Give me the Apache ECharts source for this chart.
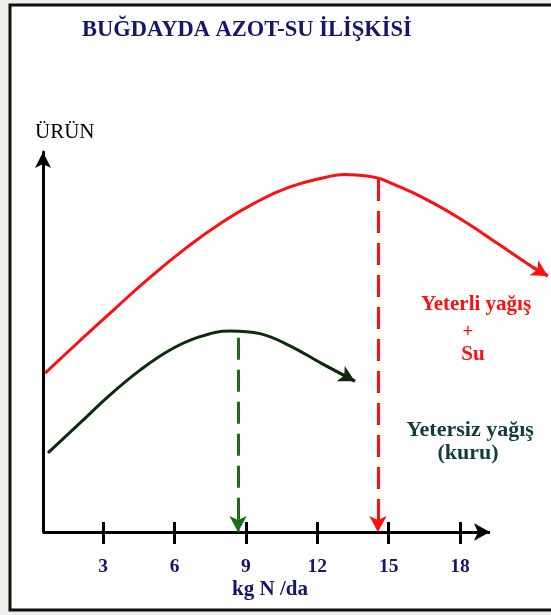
<!DOCTYPE html>
<html>
<head>
<meta charset="utf-8">
<script src="https://cdn.jsdelivr.net/npm/echarts@6/dist/echarts.min.js"></script>
<style>
html,body{margin:0;padding:0;background:#efeeea;}
#c{width:551px;height:615px;}
</style>
</head>
<body>
<div id="c"></div>
<script>
// ---- data (x: kg N/da, y: relative yield) ----
const xTicks = [3, 6, 9, 12, 15, 18];
const redX = [0.56, 2.03, 3.50, 4.97, 6.44, 7.91, 9.38, 10.85, 12.32, 13.16, 14.09, 15.47, 16.86, 18.29, 19.68, 21.06, 21.69];
const redY = [41.8, 50.4, 58.8, 67.0, 74.5, 81.1, 86.6, 90.8, 93.3, 94.1, 93.7, 90.8, 86.6, 81.3, 75.5, 69.7, 67.4];
const greenX = [0.68, 2.03, 3.29, 4.55, 5.81, 7.07, 8.33, 9.59, 10.85, 12.11, 13.58];
const greenY = [20.8, 28.7, 36.1, 42.6, 47.9, 51.4, 52.9, 52.2, 49.0, 44.6, 39.7];
const redOptimum = [14.55, 92.9];
const greenOptimum = [8.67, 51.1];
const xMin = 0.47, xMax = 21.7, xAxisEnd = 19.26;

const SERIF = "'Liberation Serif','DejaVu Serif',serif";
const NAVY = '#15156b';
const RED = '#ff1010';
const DKGREEN = '#0c2a0c';
const GREEN = '#1d6b1d';

const zip = (a, b) => a.map((v, i) => [v, b[i]]);
const redData = zip(redX, redY);
const greenData = zip(greenX, greenY);

const chart = echarts.init(document.getElementById('c'), null, {renderer: 'canvas'});
const tickAxisBase = {
  type: 'value', min: xMin, max: xMax,
  axisLine: {show: false}, splitLine: {show: false}
};
chart.setOption({
  animation: false,
  backgroundColor: '#efeeea',
  title: {
    text: 'BUĞDAYDA AZOT-SU İLİŞKİSİ',
    left: 82, top: 19,
    padding: 0,
    textStyle: {fontFamily: SERIF, fontWeight: 'bold', fontSize: 22.5, color: NAVY}
  },
  grid: {left: 43, right: 3, top: 152, bottom: 83},
  xAxis: [
    Object.assign({}, tickAxisBase, {
      axisTick: {show: true, customValues: xTicks, length: 12, lineStyle: {color: '#000', width: 3}},
      axisLabel: {show: true, customValues: xTicks, margin: 25, fontFamily: SERIF, fontWeight: 'bold', fontSize: 19.5, color: NAVY}
    }),
    Object.assign({}, tickAxisBase, {
      position: 'bottom',
      axisTick: {show: true, inside: true, customValues: xTicks, length: 10, lineStyle: {color: '#000', width: 3}},
      axisLabel: {show: false}
    })
  ],
  yAxis: {
    type: 'value', min: 0, max: 100,
    axisLine: {show: true, lineStyle: {color: '#000', width: 3}, symbol: ['none', 'arrow'], symbolSize: [12, 16]},
    axisTick: {show: false}, axisLabel: {show: false}, splitLine: {show: false}
  },
  graphic: [
    {type: 'rect', z: -10, shape: {x: 10, y: 5, width: 570, height: 605},
     style: {fill: '#fff', stroke: '#111', lineWidth: 3}},
    {type: 'text', x: 35, y: 132, style: {text: 'ÜRÜN', font: '21px ' + SERIF, fill: '#000', verticalAlign: 'middle'}},
    {type: 'text', x: 270, y: 590, style: {text: 'kg N /da', font: 'bold 21px ' + SERIF, fill: NAVY, align: 'center', verticalAlign: 'middle'}},
    {type: 'text', x: 476, y: 305, style: {text: 'Yeterli yağış', font: 'bold 21px ' + SERIF, fill: RED, align: 'center', verticalAlign: 'middle'}},
    {type: 'text', x: 468, y: 332, style: {text: '+', font: 'bold 19px ' + SERIF, fill: RED, align: 'center', verticalAlign: 'middle'}},
    {type: 'text', x: 473, y: 355, style: {text: 'Su', font: 'bold 21px ' + SERIF, fill: RED, align: 'center', verticalAlign: 'middle'}},
    {type: 'text', x: 470, y: 430, style: {text: 'Yetersiz yağış', font: 'bold 22px ' + SERIF, fill: '#123b3b', align: 'center', verticalAlign: 'middle'}},
    {type: 'text', x: 468, y: 453, style: {text: '(kuru)', font: 'bold 22px ' + SERIF, fill: '#123b3b', align: 'center', verticalAlign: 'middle'}}
  ],
  series: [
    {
      type: 'line', name: 'Yeterli yağış + Su', data: redData, smooth: 0.5,
      showSymbol: false, symbol: 'none',
      lineStyle: {color: RED, width: 3}, silent: true,
      markLine: {
        silent: true, animation: false,
        label: {show: false},
        emphasis: {disabled: true},
        data: [
          [{coord: redOptimum, symbol: 'none', lineStyle: {color: RED, width: 3, type: [22, 10]}},
           {coord: [redOptimum[0], 0], symbol: 'arrow', symbolSize: [13, 16]}],
          [{coord: redData[redData.length - 2], symbol: 'none', lineStyle: {color: RED, width: 3, type: 'solid'}},
           {coord: redData[redData.length - 1], symbol: 'arrow', symbolSize: [13, 16]}],
          [{coord: [xMin, 0], symbol: 'none', lineStyle: {color: '#000', width: 3, type: 'solid'}},
           {coord: [xAxisEnd, 0], symbol: 'arrow', symbolSize: [13, 16]}]
        ]
      }
    },
    {
      type: 'line', name: 'Yetersiz yağış (kuru)', data: greenData, smooth: 0.4,
      showSymbol: false, symbol: 'none',
      lineStyle: {color: DKGREEN, width: 3}, silent: true,
      markLine: {
        silent: true, animation: false,
        label: {show: false},
        emphasis: {disabled: true},
        data: [
          [{coord: greenOptimum, symbol: 'none', lineStyle: {color: GREEN, width: 3, type: [22, 10]}},
           {coord: [greenOptimum[0], 0], symbol: 'arrow', symbolSize: [13, 16]}],
          [{coord: greenData[greenData.length - 2], symbol: 'none', lineStyle: {color: DKGREEN, width: 3, type: 'solid'}},
           {coord: greenData[greenData.length - 1], symbol: 'arrow', symbolSize: [13, 16], itemStyle: {color: GREEN}}]
        ]
      }
    }
  ]
});
</script>
</body>
</html>
